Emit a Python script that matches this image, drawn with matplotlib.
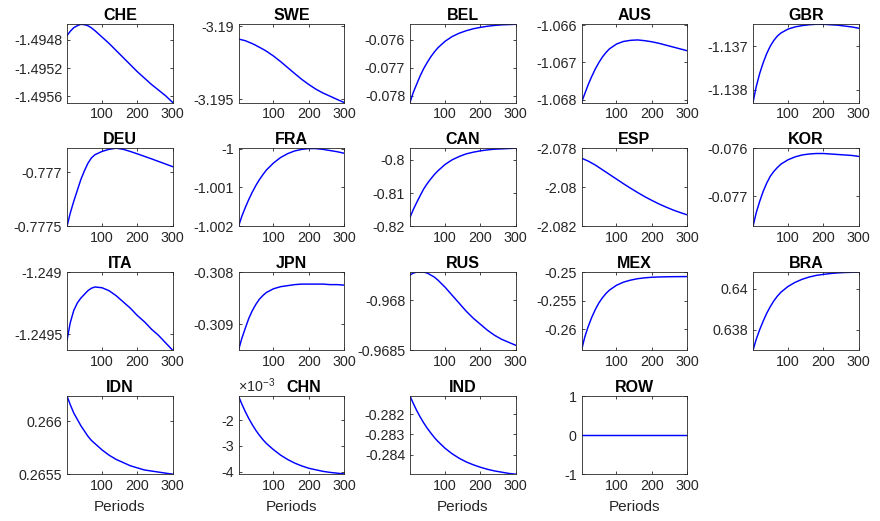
import matplotlib
matplotlib.use("Agg")
import matplotlib.pyplot as plt
from matplotlib.ticker import FixedLocator, FixedFormatter

periods = [1, 10, 20, 30, 40, 50, 60, 70, 80, 100, 120, 140, 160, 180, 200, 220, 240, 260, 280, 300]

che = [-1.49474, -1.49468, -1.494628, -1.49460, -1.49458, -1.494585, -1.49460, -1.49463, -1.49467, -1.49476,
       -1.49485, -1.49495, -1.49505, -1.49515, -1.49525, -1.49534, -1.49543, -1.49551, -1.49559, -1.495685]
swe = [-3.19089, -3.19094, -3.19100, -3.19110, -3.19120, -3.19132, -3.19145, -3.19158, -3.19172, -3.19205,
       -3.19243, -3.19284, -3.19325, -3.19365, -3.19400, -3.19432, -3.19458, -3.19480, -3.19502, -3.19523]
bel = [-0.07824, -0.07789, -0.07758, -0.07728, -0.07702, -0.07680, -0.07660, -0.07643, -0.07628, -0.07605,
       -0.07588, -0.07576, -0.07567, -0.07560, -0.07555, -0.07551, -0.07548, -0.07546, -0.07545, -0.07544]
aus = [-1.06808, -1.06785, -1.06760, -1.06738, -1.06718, -1.06701, -1.06686, -1.06674, -1.06664, -1.06651,
       -1.06644, -1.06641, -1.06640, -1.06642, -1.06645, -1.06649, -1.06654, -1.06659, -1.06664, -1.06669]
gbr = [-1.13829, -1.13793, -1.13762, -1.13737, -1.13716, -1.13699, -1.13686, -1.13676, -1.13669, -1.13660,
       -1.13655, -1.13652, -1.13650, -1.13649, -1.13649, -1.13650, -1.13651, -1.13653, -1.13655, -1.13658]
deu = [-0.77750, -0.77738, -0.77727, -0.77717, -0.77707, -0.77699, -0.77692, -0.77687, -0.77684, -0.77681,
       -0.776790, -0.776780, -0.776790, -0.776810, -0.776832, -0.776855, -0.776878, -0.776902, -0.776926, -0.77695]
fra = [-1.00200, -1.00175, -1.00152, -1.00131, -1.00112, -1.00095, -1.00080, -1.00067, -1.00055, -1.00037,
       -1.00023, -1.00013, -1.00006, -1.00002, -1.00000, -1.00000, -1.00002, -1.00005, -1.00008, -1.00012]
can = [-0.8173, -0.8150, -0.8128, -0.8107, -0.8087, -0.8071, -0.8057, -0.8044, -0.8033, -0.8014,
       -0.8000, -0.7990, -0.7982, -0.7977, -0.7973, -0.7970, -0.7968, -0.7967, -0.7966, -0.7965]
esp = [-2.07851, -2.07858, -2.07866, -2.07876, -2.07886, -2.07898, -2.07910, -2.07922, -2.07934, -2.07958,
       -2.07982, -2.08005, -2.08027, -2.08048, -2.08067, -2.08085, -2.08101, -2.08116, -2.08129, -2.08141]
kor = [-0.07762, -0.07734, -0.07710, -0.07689, -0.07672, -0.07658, -0.07648, -0.07640, -0.07633, -0.07624,
       -0.07618, -0.07614, -0.07612, -0.07611, -0.07611, -0.07612, -0.07613, -0.07614, -0.07615, -0.07617]
ita = [-1.24955, -1.24941, -1.24931, -1.24925, -1.24921, -1.24918, -1.24915, -1.24913, -1.24912, -1.249126,
       -1.24915, -1.24919, -1.24924, -1.24929, -1.24935, -1.24940, -1.24946, -1.24951, -1.24957, -1.24963]
jpn = [-0.30950, -0.30928, -0.30908, -0.30889, -0.30874, -0.30862, -0.30852, -0.30845, -0.30839, -0.30832,
       -0.30828, -0.30826, -0.30824, -0.30823, -0.30823, -0.30823, -0.30823, -0.30824, -0.30824, -0.30825]
rus = [-0.96775, -0.96773, -0.96772, -0.96772, -0.96772, -0.96773, -0.96775, -0.96777, -0.96780, -0.96787,
       -0.96795, -0.96803, -0.96811, -0.96818, -0.96824, -0.96830, -0.96835, -0.96839, -0.96842, -0.96845]
mex = [-0.26366, -0.26140, -0.25950, -0.25790, -0.25655, -0.25540, -0.25450, -0.25375, -0.25315, -0.25230,
       -0.25175, -0.25140, -0.25115, -0.25100, -0.25090, -0.25085, -0.25082, -0.25080, -0.25079, -0.25078]
bra = [0.63699, 0.63752, 0.63800, 0.63842, 0.63880, 0.63912, 0.63940, 0.63963, 0.63982, 0.64010,
       0.64030, 0.64045, 0.64056, 0.64064, 0.64069, 0.64073, 0.64076, 0.64078, 0.64079, 0.64080]
idn = [0.26624, 0.26616, 0.26608, 0.26602, 0.26596, 0.26591, 0.26586, 0.26582, 0.26579, 0.26573,
       0.26568, 0.26564, 0.26561, 0.26558, 0.26556, 0.26554, 0.26553, 0.26552, 0.26551, 0.26550]
chn = [-1.07e-3, -1.37e-3, -1.67e-3, -1.94e-3, -2.18e-3, -2.40e-3, -2.59e-3, -2.76e-3, -2.91e-3, -3.15e-3,
       -3.36e-3, -3.53e-3, -3.67e-3, -3.78e-3, -3.87e-3, -3.93e-3, -3.99e-3, -4.03e-3, -4.06e-3, -4.09e-3]
ind = [-0.28112, -0.28147, -0.28183, -0.28215, -0.28244, -0.28270, -0.28293, -0.28315, -0.28334, -0.28367,
       -0.28394, -0.28416, -0.28434, -0.28448, -0.28460, -0.28470, -0.28478, -0.28484, -0.28490, -0.28494]
row = [0, 0, 0, 0, 0, 0, 0, 0, 0, 0, 0, 0, 0, 0, 0, 0, 0, 0, 0, 0]

countries = ['CHE', 'SWE', 'BEL', 'AUS', 'GBR',
             'DEU', 'FRA', 'CAN', 'ESP', 'KOR',
             'ITA', 'JPN', 'RUS', 'MEX', 'BRA',
             'IDN', 'CHN', 'IND', 'ROW']
series = [che, swe, bel, aus, gbr, deu, fra, can, esp, kor,
          ita, jpn, rus, mex, bra, idn, chn, ind, row]

# y axis limits and ticks as shown in each panel
ylims = [(-1.495685, -1.49458), (-3.19523, -3.18988), (-0.07824, -0.07544), (-1.06808, -1.06598),
         (-1.13829, -1.13649), (-0.7775, -0.77678), (-1.002, -0.99999), (-0.82, -0.7965),
         (-2.082, -2.078), (-0.07762, -0.076), (-1.24963, -1.249), (-0.3095, -0.308),
         (-0.9685, -0.96772), (-0.26366, -0.25), (0.63699, 0.6408), (0.2655, 0.26624),
         (-4.1e-3, -1.07e-3), (-0.28494, -0.28112), (-1, 1)]
yticks = [[-1.4956, -1.4952, -1.4948], [-3.195, -3.19], [-0.078, -0.077, -0.076],
          [-1.068, -1.067, -1.066], [-1.138, -1.137], [-0.7775, -0.777],
          [-1.002, -1.001, -1.0], [-0.82, -0.81, -0.8], [-2.082, -2.08, -2.078],
          [-0.077, -0.076], [-1.2495, -1.249], [-0.309, -0.308], [-0.9685, -0.968],
          [-0.26, -0.255, -0.25], [0.638, 0.64], [0.2655, 0.266],
          [-4e-3, -3e-3, -2e-3], [-0.284, -0.283, -0.282], [-1, 0, 1]]
yticklabels = [['-1.4956', '-1.4952', '-1.4948'], ['-3.195', '-3.19'], ['-0.078', '-0.077', '-0.076'],
               ['-1.068', '-1.067', '-1.066'], ['-1.138', '-1.137'], ['-0.7775', '-0.777'],
               ['-1.002', '-1.001', '-1'], ['-0.82', '-0.81', '-0.8'], ['-2.082', '-2.08', '-2.078'],
               ['-0.077', '-0.076'], ['-1.2495', '-1.249'], ['-0.309', '-0.308'], ['-0.9685', '-0.968'],
               ['-0.26', '-0.255', '-0.25'], ['0.638', '0.64'], ['0.2655', '0.266'],
               ['-4', '-3', '-2'], ['-0.284', '-0.283', '-0.282'], ['-1', '0', '1']]
xticks = [100, 200, 300]

plt.rcParams['font.family'] = ['Liberation Sans', 'DejaVu Sans']
plt.rcParams['mathtext.fontset'] = 'custom'
plt.rcParams['mathtext.rm'] = 'Liberation Sans'
plt.rcParams['axes.linewidth'] = 0.6
plt.rcParams['axes.edgecolor'] = '#262626'
for ax_name in ['xtick', 'ytick']:
    plt.rcParams[ax_name + '.direction'] = 'in'
    plt.rcParams[ax_name + '.major.size'] = 2.5
    plt.rcParams[ax_name + '.major.width'] = 0.6
    plt.rcParams[ax_name + '.color'] = '#262626'
    plt.rcParams[ax_name + '.labelcolor'] = '#262626'
    plt.rcParams[ax_name + '.labelsize'] = 10.3
plt.rcParams['xtick.top'] = True
plt.rcParams['ytick.right'] = True

fig = plt.figure(figsize=(8.8, 5.21), dpi=100)
W, H = 880.0, 521.0

for i, name in enumerate(countries):
    r, c = divmod(i, 5)
    left = 67 + 171.5 * c
    top = 24.3 + 123.9 * r
    ax = fig.add_axes([left / W, 1 - (top + 78.2) / H, 105.7 / W, 78.2 / H])
    ax.plot(periods, series[i], color='blue', linewidth=1.05)
    ax.set_xlim(1, 300)
    ax.set_ylim(*ylims[i])
    ax.xaxis.set_major_locator(FixedLocator(xticks))
    ax.yaxis.set_major_locator(FixedLocator(yticks[i]))
    ax.yaxis.set_major_formatter(FixedFormatter(yticklabels[i]))
    ttl = ax.set_title(name, fontsize=11.5, fontweight='bold', pad=3)
    if name == 'CHN':
        # exponent label sits left of the title, title pushed right
        ttl.set_x(0.62)
        ax.text(0.0, 1.01, r'$\times\mathregular{10^{-3}}$', transform=ax.transAxes,
                fontsize=10.3, color='#262626', ha='left', va='bottom')
    if r == 3:
        ax.set_xlabel('Periods', fontsize=11, color='#262626', labelpad=5)

fig.savefig('out.png', dpi=100)
